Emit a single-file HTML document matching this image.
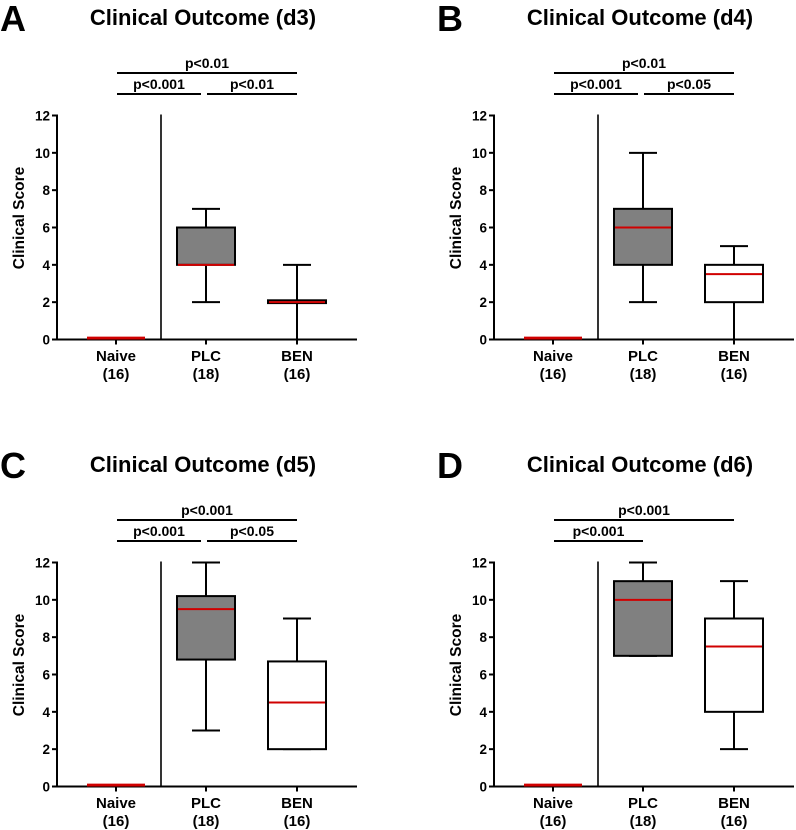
<!DOCTYPE html>
<html><head><meta charset="utf-8"><style>
body{margin:0;background:#fff;}
svg{display:block;font-family:"Liberation Sans",Arial,sans-serif;font-weight:bold;}
</style></head><body>
<svg id="fig" width="796" height="830" viewBox="0 0 796 830"></svg>
<script>
const panelLetters = ["A","B","C","D"];
const panelTitles = ["Clinical Outcome (d3)","Clinical Outcome (d4)","Clinical Outcome (d5)","Clinical Outcome (d6)"];
const categories = ["Naive","PLC","BEN"];
const counts = ["(16)","(18)","(16)"];
const yTicks = [0,2,4,6,8,10,12];
// [min, q1, median, q3, max] per group per panel
const naiveStats = [[0,0,0,0.1,0.1],[0,0,0,0.1,0.1],[0,0,0,0.1,0.1],[0,0,0,0.1,0.1]];
const plcStats = [[2,4,4,6,7],[2,4,6,7,10],[3,6.8,9.5,10.2,12],[7,7,10,11,12]];
const benStats = [[0,1.95,2,2.1,4],[0,2,3.5,4,5],[2,2,4.5,6.7,9],[2,4,7.5,9,11]];
// brackets: [fromCat, toCat, level(0=lower,1=upper), label]
const bracketsA = [[0,2,1,"p<0.01"],[0,1,0,"p<0.001"],[1,2,0,"p<0.01"]];
const bracketsB = [[0,2,1,"p<0.01"],[0,1,0,"p<0.001"],[1,2,0,"p<0.05"]];
const bracketsC = [[0,2,1,"p<0.001"],[0,1,0,"p<0.001"],[1,2,0,"p<0.05"]];
const bracketsD = [[0,2,1,"p<0.001"],[0,1,0,"p<0.001"]];
const allBrackets = [bracketsA,bracketsB,bracketsC,bracketsD];

const NS = "http://www.w3.org/2000/svg";
const svg = document.getElementById("fig");
function mk(tag, attrs, parent, text){
  const e = document.createElementNS(NS, tag);
  for (const k in attrs) e.setAttribute(k, attrs[k]);
  if (text !== undefined) e.textContent = text;
  parent.appendChild(e);
  return e;
}
const offsets = [[0,0],[437,0],[0,447],[437,447]];
const axX = 57, y0 = 339.5, y12 = 115.5, axEnd = 357;
const yScale = v => y0 - (v/12)*(y0-y12);
const xCenters = [116, 206, 297];
const xScale = i => xCenters[i];
const sepX = 161;

for (let p=0;p<4;p++){
  const g = mk("g",{transform:`translate(${offsets[p][0]},${offsets[p][1]})`},svg);
  
  
  const L = mk("text",{x:0,y:31,"font-size":36,fill:"#000"},g,panelLetters[p]);
  
  
  const T = mk("text",{x:203,y:25,"font-size":22,"text-anchor":"middle",fill:"#000"},g,panelTitles[p]);
  
  
  const ax = mk("g",{},g);
  
  
  mk("line",{x1:axX,y1:yScale(12)-1,x2:axX,y2:y0+1,stroke:"#000","stroke-width":2},ax);
  yTicks.forEach(t=>{
    mk("line",{x1:axX-5,y1:yScale(t),x2:axX,y2:yScale(t),stroke:"#000","stroke-width":2},ax);
    const tl = mk("text",{x:axX-7,y:yScale(t)+5,"font-size":13.5,"text-anchor":"end"},ax,String(t));
    
    
  });
  const yt = mk("text",{x:0,y:0,"font-size":15.5,"text-anchor":"middle",transform:`translate(24,218) rotate(-90)`},g,"Clinical  Score");
  
  
  const xa = mk("g",{},g);
  
  
  mk("line",{x1:axX,y1:y0,x2:axEnd,y2:y0,stroke:"#000","stroke-width":2},xa);
  categories.forEach((c,i)=>{
    mk("line",{x1:xScale(i),y1:y0,x2:xScale(i),y2:y0+5,stroke:"#000","stroke-width":2},xa);
    const cl = mk("text",{x:xScale(i),y:361,"font-size":15,"text-anchor":"middle"},xa,c);
    
    
    const nl = mk("text",{x:xScale(i),y:379,"font-size":15,"text-anchor":"middle"},xa,counts[i]);
    
    
  });
  const sep = mk("line",{x1:sepX,y1:yScale(12)-1,x2:sepX,y2:y0,stroke:"#000","stroke-width":1.6},g);
  
  
  const stats = [naiveStats[p],plcStats[p],benStats[p]];
  const fills = ["#fff","#808080","#fff"];
  stats.forEach((s,i)=>{
    const bg = mk("g",{},g);
    
    
    const cx = xScale(i), hw = 29, cw = 14;
    if (i===0){
      mk("rect",{x:cx-hw,y:yScale(s[3])-1,width:hw*2,height:yScale(s[1])-yScale(s[3])+1,fill:"#d00000"},bg);
      return;
    }
    mk("line",{x1:cx,y1:yScale(s[4]),x2:cx,y2:yScale(s[0]),stroke:"#000","stroke-width":2},bg);
    mk("line",{x1:cx-cw,y1:yScale(s[4]),x2:cx+cw,y2:yScale(s[4]),stroke:"#000","stroke-width":2},bg);
    if (s[0]>0) mk("line",{x1:cx-cw,y1:yScale(s[0]),x2:cx+cw,y2:yScale(s[0]),stroke:"#000","stroke-width":2},bg);
    mk("rect",{x:cx-hw,y:yScale(s[3]),width:hw*2,height:Math.max(0.5,yScale(s[1])-yScale(s[3])),fill:fills[i],stroke:"#000","stroke-width":2},bg);
    const med = mk("line",{x1:cx-hw+1,y1:yScale(s[2]),x2:cx+hw-1,y2:yScale(s[2]),stroke:"#d00000","stroke-width":2},bg);
    
    
  });
  allBrackets[p].forEach(b=>{
    const bg = mk("g",{},g);
    
    
    const ly = b[2]===1 ? 73 : 94;
    let x1 = xScale(b[0])+1, x2 = xScale(b[1]);
    if (b[2]===0 && b[0]===0 && allBrackets[p].length===3) x2 -= 5;
    mk("line",{x1:x1,y1:ly,x2:x2,y2:ly,stroke:"#000","stroke-width":2},bg);
    mk("text",{x:(x1+x2)/2,y:ly-5,"font-size":14,"text-anchor":"middle"},bg,b[3]);
  });
}
</script>
</body></html>
